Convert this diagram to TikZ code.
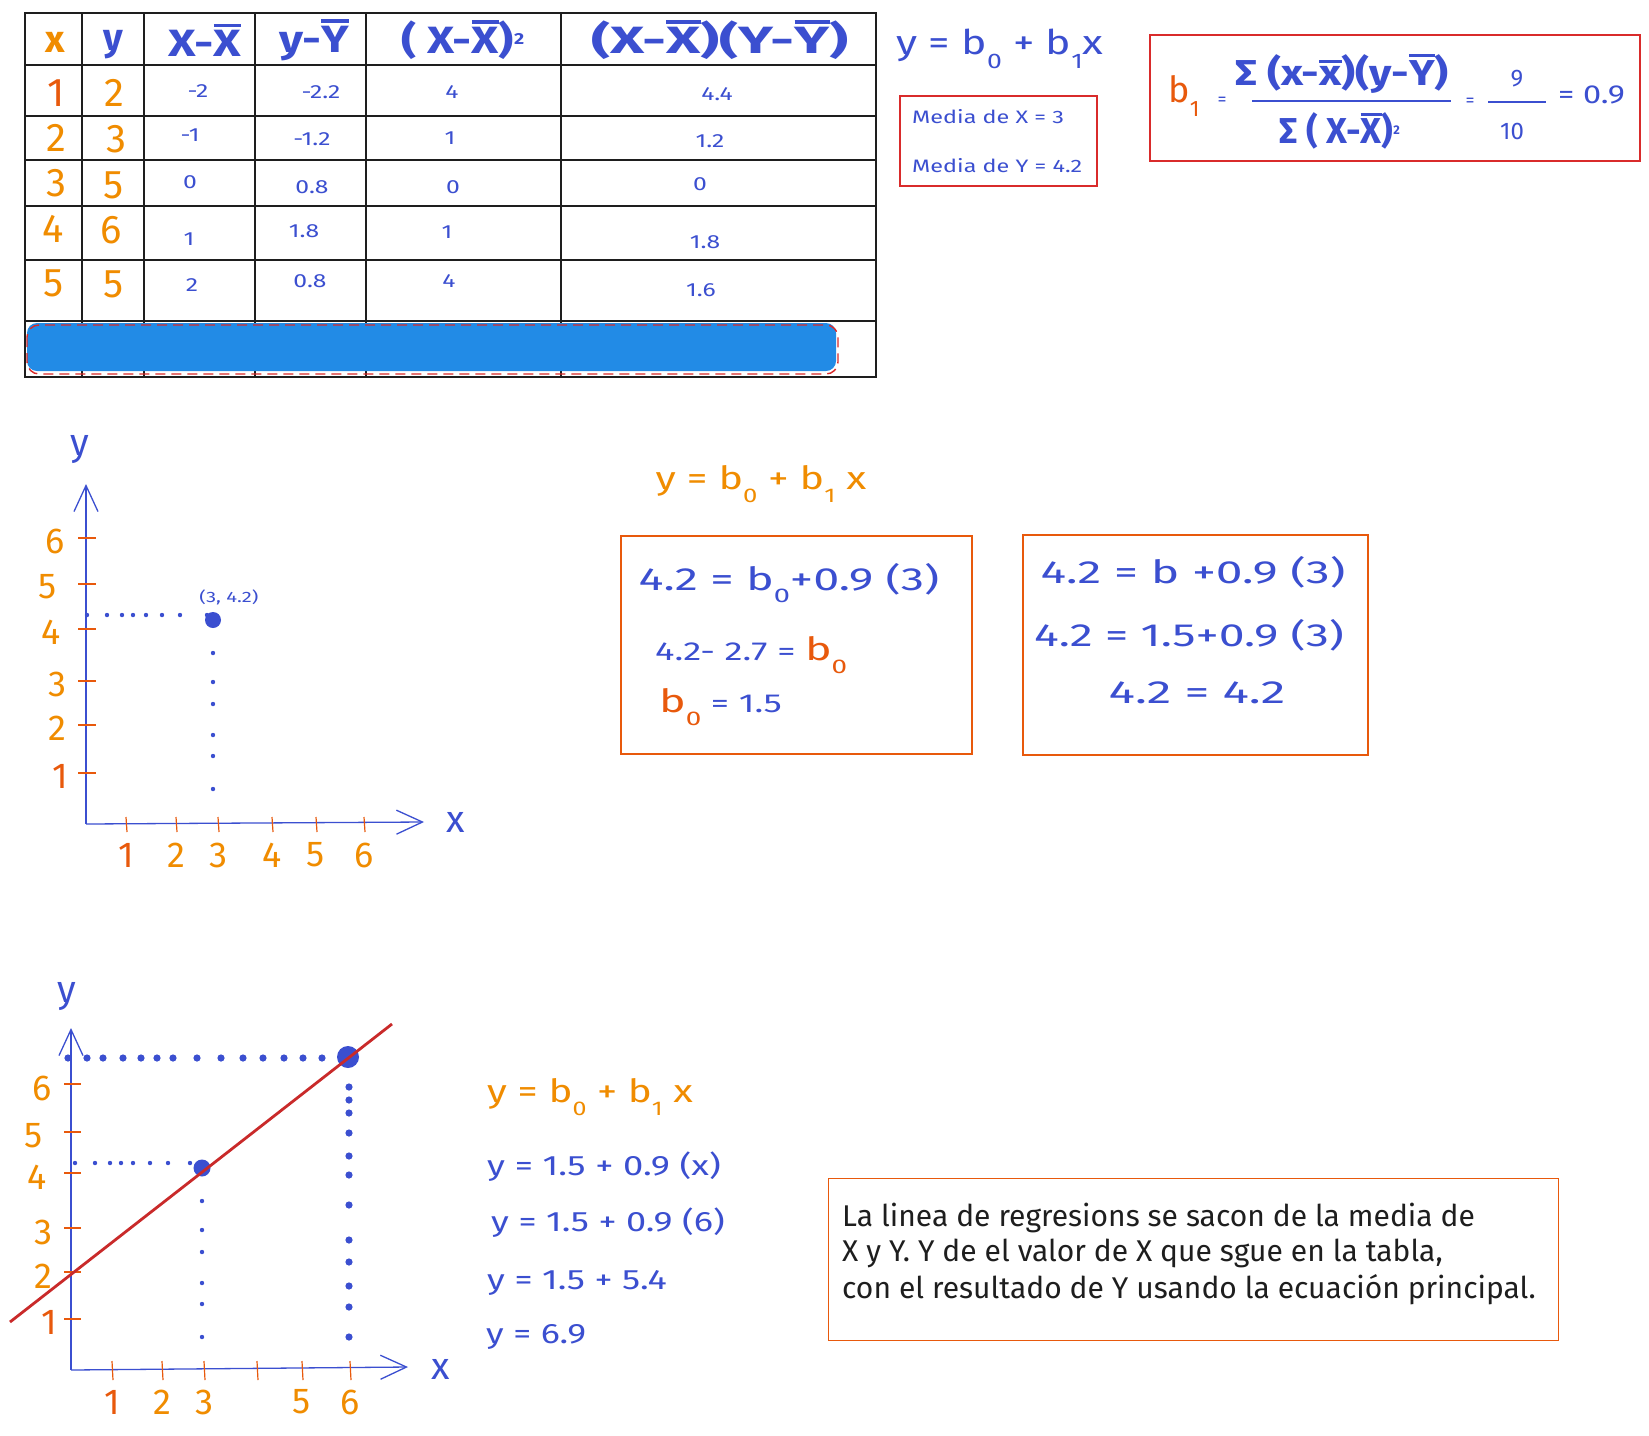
\documentclass[tikz,border=0pt]{standalone}
\usepackage{fontspec}
\usepackage{graphicx}
\setmainfont{Fira Sans}
\usetikzlibrary{arrows.meta}
\definecolor{cblue}{HTML}{3B4FD0}
\definecolor{corange}{HTML}{F08C00}
\definecolor{cred}{HTML}{E8590C}
\definecolor{boxred}{HTML}{D92B2B}
\definecolor{barblue}{HTML}{228BE6}
\definecolor{linered}{HTML}{C92A2A}
\definecolor{ink}{HTML}{1E1E1E}
\newcommand{\fs}[1]{\fontsize{#1}{#1}\selectfont}
\newcommand{\ob}[1]{\setbox0=\hbox{#1}\rlap{\raisebox{\dimexpr\ht0+0.09em\relax}{\rule{\wd0}{0.085em}}}\box0}
\newcommand{\sbs}[1]{\raisebox{-0.4em}{\scalebox{0.62}{#1}}}
\newcommand{\hs}[2]{\scalebox{#1}[1]{#2}}
\begin{document}
\begin{tikzpicture}[x=1pt,y=-1pt,
  tline/.style={draw=ink,line width=1.6pt},
  hdr/.style={text=cblue,font=\fs{38}\bfseries,inner sep=0pt},
  val/.style={text=cblue,font=\fs{19},inner sep=0pt},
  dig/.style={text=corange,font=\fs{36},inner sep=0pt},
  tdig/.style={text=corange,font=\fs{40},inner sep=0pt},
  eq/.style={text=cblue,font=\fs{32},inner sep=0pt},
  axis/.style={draw=cblue,line width=1.3pt},
  tick/.style={draw=cred,line width=1.2pt},
  arrowhd/.style={-{Straight Barb[length=26pt,width=24pt,line width=1.3pt]}}
]
\useasboundingbox (0,0) rectangle (1649,1435);
\fill[white] (0,0) rectangle (1649,1435);

% ---------------- table ----------------
\draw[tline] (25,13) rectangle (876,377);
\foreach \yy in {65,116,160,206,260,321} \draw[tline] (25,\yy) -- (876,\yy);
\foreach \xx in {82,144,255,366,561} \draw[tline] (\xx,13) -- (\xx,377);

\node[hdr,text=corange] (hx) at (55,42) {x};
\node[hdr] (hy) at (113,45) {y};
\node[hdr] (h3) at (205,40) {\hs{1.25}{X-\ob{X}}};
\node[hdr] (h4) at (314,40) {\hs{1.22}{y-\ob{Y}}};
\node[hdr] (h5) at (463,40) {\hs{1.23}{( X-\ob{X} )\textsuperscript{\scalebox{0.6}{2}}}};
\node[hdr] (h6) at (720,40) {\hs{1.55}{(X-\ob{X})(Y-\ob{Y})}};

% column x and y
\node[tdig,text=cred] (r1x) at (56,93) {1};
\node[tdig] (r1y) at (114,93) {2};
\node[tdig] (r2x) at (56,138) {2};
\node[tdig] (r2y) at (116,139) {3};
\node[tdig] (r3x) at (56,183) {3};
\node[tdig] (r3y) at (114,185) {5};
\node[tdig] (r4x) at (53,229) {4};
\node[tdig] (r4y) at (111,230) {6};
\node[tdig] (r5x) at (54,283) {5};
\node[tdig] (r5y) at (114,284) {5};

\node[val] (a1) at (198,91) {\hs{1.3}{-2}};
\node[val] (b1) at (321,92) {\hs{1.3}{-2.2}};
\node[val] (c1) at (452,92) {\hs{1.3}{4}};
\node[val] (d1) at (717,94) {\hs{1.3}{4.4}};
\node[val] (a2) at (190,135) {\hs{1.3}{-1}};
\node[val] (b2) at (312,139) {\hs{1.3}{-1.2}};
\node[val] (c2) at (450,138) {\hs{1.3}{1}};
\node[val] (d2) at (710,141) {\hs{1.3}{1.2}};
\node[val] (a3) at (190,182) {\hs{1.3}{0}};
\node[val] (b3) at (312,187) {\hs{1.3}{0.8}};
\node[val] (c3) at (453,187) {\hs{1.3}{0}};
\node[val] (d3) at (700,184) {\hs{1.3}{0}};
\node[val] (a4) at (189,239) {\hs{1.3}{1}};
\node[val] (b4) at (304,231) {\hs{1.3}{1.8}};
\node[val] (c4) at (447,232) {\hs{1.3}{1}};
\node[val] (d4) at (705,242) {\hs{1.3}{1.8}};
\node[val] (a5) at (192,285) {\hs{1.3}{2}};
\node[val] (b5) at (310,281) {\hs{1.3}{0.8}};
\node[val] (c5) at (449,281) {\hs{1.3}{4}};
\node[val] (d5) at (701,290) {\hs{1.3}{1.6}};

\fill[barblue,rounded corners=10pt] (27,323) rectangle (836,371);
\draw[boxred,dash pattern=on 10pt off 6pt,line width=1.4pt,rounded corners=12pt] (27,325) rectangle (838,374);

% ---------------- top right ----------------
\node[eq,font=\fs{34}] (eqtop) at (1000,49) {\hs{1.26}{y = b\sbs{0} + b\sbs{1}x}};
\draw[boxred,line width=2pt] (900,96) rectangle (1097,186);
\node[val,font=\fs{18},anchor=west] (mx) at (912,117) {\hs{1.3}{Media de X = 3}};
\node[val,font=\fs{18},anchor=west] (my) at (912,166) {\hs{1.3}{Media de Y = 4.2}};

\draw[boxred,line width=2pt] (1150,35) rectangle (1640,161);
\node[eq,text=cred,font=\fs{36}] (bb1) at (1184,96) {b\sbs{1}};
\node[eq,font=\fs{18}] (e1) at (1222,101) {=};
\node[eq,font=\fs{36}\bfseries] (num) at (1342,74) {\hs{1.2}{Σ (x-\ob{x})(y-\ob{Y})}};
\draw[cblue,line width=2pt] (1252,101) -- (1451,101);
\node[eq,font=\fs{36}\bfseries] (den) at (1340,131) {Σ ( X-\ob{X} )\textsuperscript{\scalebox{0.5}{2}}};
\node[eq,font=\fs{18}] (e2) at (1470,102) {=};
\node[eq,font=\fs{24}] (n9) at (1517,79) {9};
\draw[cblue,line width=1.6pt] (1488,102) -- (1546,102);
\node[eq,font=\fs{24}] (n10) at (1512,131) {10};
\node[eq,font=\fs{26},anchor=west] (r09) at (1558,95) {\hs{1.25}{= 0.9}};

% ---------------- graph 1 ----------------
\coordinate (o1) at (86,824);
\coordinate (ytop1) at (86,484);
\coordinate (xend1) at (424,822);
\draw[axis,arrowhd] (o1) -- (ytop1);
\draw[axis,arrowhd] (o1) -- (xend1);
\node[eq,font=\fs{38}] (ylab1) at (80,450) {y};
\node[eq,font=\fs{38}] (xlab1) at (456,822) {x};
\foreach \yy/\lab/\lx in {538/6/55,584/5/48,629/4/51,681/3/57,725/2/57}{
  \draw[tick] (78,\yy) -- (96,\yy);
  \node[dig] at (\lx,\yy+3) {\lab};
}
\draw[tick] (78,773) -- (96,773);
\node[dig,text=cred] (g1y1) at (60,776) {1};
\foreach \xx/\lab in {176/2,218/3,272/4,316/5,364/6}{
  \draw[tick] (\xx,817) -- (\xx+1,832);
  \node[dig] at (\xx,855) {\lab};
}
\draw[tick] (126,817) -- (127,832);
\node[dig,text=cred] (g1x1) at (126,855) {1};
\foreach \xx in {87,107,122,133,146,162,180,207} \fill[cblue] (\xx,615) circle (2.2pt);
\foreach \yy in {653,682,704,735,756,789} \fill[cblue] (213,\yy) circle (2.2pt);
\node[circle,fill=cblue,inner sep=0pt,minimum size=16pt] (p1) at (213,620) {};
\node[val,font=\fs{15}] (p1lab) at (229,597) {\hs{1.35}{(3, 4.2)}};

% ---------------- middle equations ----------------
\node[eq,text=corange] (eqmid) at (761,484) {\hs{1.29}{y = b\sbs{0} + b\sbs{1} x}};
\draw[cred,line width=2.2pt] (621,536) rectangle (972,754);
\draw[cred,line width=2.2pt] (1023,535) rectangle (1368,755);
\node[eq] (l1) at (789,583) {\hs{1.46}{4.2 = b\sbs{0}+0.9 (3)}};
\node[eq,font=\fs{26},anchor=west] (l2) at (655,655) {\hs{1.4}{4.2- 2.7 = \textcolor{cred}{\fs{32}b\sbs{0}}}};
\node[eq,font=\fs{26},anchor=west] (l3) at (659,707) {\hs{1.4}{\textcolor{cred}{\fs{32}b\sbs{0}} = 1.5}};
\node[eq] (r1) at (1193,572) {\hs{1.5}{4.2 = b +0.9 (3)}};
\node[eq] (r2) at (1189,635) {\hs{1.45}{4.2 = 1.5+0.9 (3)}};
\node[eq] (r3) at (1197,693) {\hs{1.55}{4.2 = 4.2}};

% ---------------- graph 2 ----------------
\coordinate (o2) at (71,1370);
\coordinate (ytop2) at (71,1028);
\coordinate (xend2) at (408,1367);
\draw[axis,arrowhd] (o2) -- (ytop2);
\draw[axis,arrowhd] (o2) -- (xend2);
\node[eq,font=\fs{38}] (ylab2) at (67,997) {y};
\node[eq,font=\fs{38}] (xlab2) at (441,1369) {x};
\foreach \yy/\lab/\lx in {1084/6/42,1132/5/34,1173/4/37,1228/3/43,1272/2/43}{
  \draw[tick] (64,\yy) -- (81,\yy);
  \node[dig] at (\lx,\yy+4) {\lab};
}
\draw[tick] (64,1319) -- (81,1319);
\node[dig,text=cred] (g2y1) at (49,1322) {1};
\foreach \xx in {112,162,204,257,302,350} \draw[tick] (\xx,1361) -- (\xx+1,1380);
\node[dig,text=cred] (g2x1) at (112,1402) {1};
\foreach \xx/\lab in {162/2,204/3,302/5,350/6} \node[dig] at (\xx,1402) {\lab};

\foreach \xx in {68,87,103,123,141,157,173,197,221,243,263,284,303,322} \fill[cblue] (\xx,1058) circle (3.6pt);
\foreach \yy in {1087,1100,1113,1133,1156,1175,1205,1240,1262,1286,1307,1337} \fill[cblue] (349,\yy) circle (3.6pt);
\foreach \xx in {75,95,110,121,133,150,168,190} \fill[cblue] (\xx,1163) circle (2.2pt);
\foreach \yy in {1201,1230,1252,1283,1304,1337} \fill[cblue] (202,\yy) circle (2.2pt);
\node[circle,fill=cblue,inner sep=0pt,minimum size=17pt] (p2) at (202,1168) {};
\node[circle,fill=cblue,inner sep=0pt,minimum size=22pt] (p3) at (348,1057) {};
\coordinate (la) at (10,1322);
\coordinate (lb) at (392,1024);
\draw[linered,line width=2.8pt] (la) -- (lb);

% ---------------- bottom equations ----------------
\node[eq,text=corange,anchor=west] (eqb) at (487,1097) {\hs{1.26}{y = b\sbs{0} + b\sbs{1} x}};
\node[eq,font=\fs{28},anchor=west] (q1) at (487,1167) {\hs{1.3}{y = 1.5 + 0.9 (x)}};
\node[eq,font=\fs{28},anchor=west] (q2) at (491,1223) {\hs{1.29}{y = 1.5 + 0.9 (6)}};
\node[eq,font=\fs{28},anchor=west] (q3) at (487,1283) {\hs{1.29}{y = 1.5 + 5.4}};
\node[eq,font=\fs{28},anchor=west] (q4) at (486,1337) {\hs{1.28}{y = 6.9}};

\draw[cred,line width=0.9pt] (828,1178) rectangle (1558,1340);
\node[anchor=west,inner sep=0pt,font=\fs{30},text=ink] (t1) at (842,1218) {La linea de regresions se sacon de la media de};
\node[anchor=west,inner sep=0pt,font=\fs{30},text=ink] (t2) at (842,1253) {X y Y. Y de el valor de X que sgue en la tabla,};
\node[anchor=west,inner sep=0pt,font=\fs{30},text=ink] (t3) at (842,1290) {con el resultado de Y usando la ecuación principal.};
\end{tikzpicture}
\end{document}
